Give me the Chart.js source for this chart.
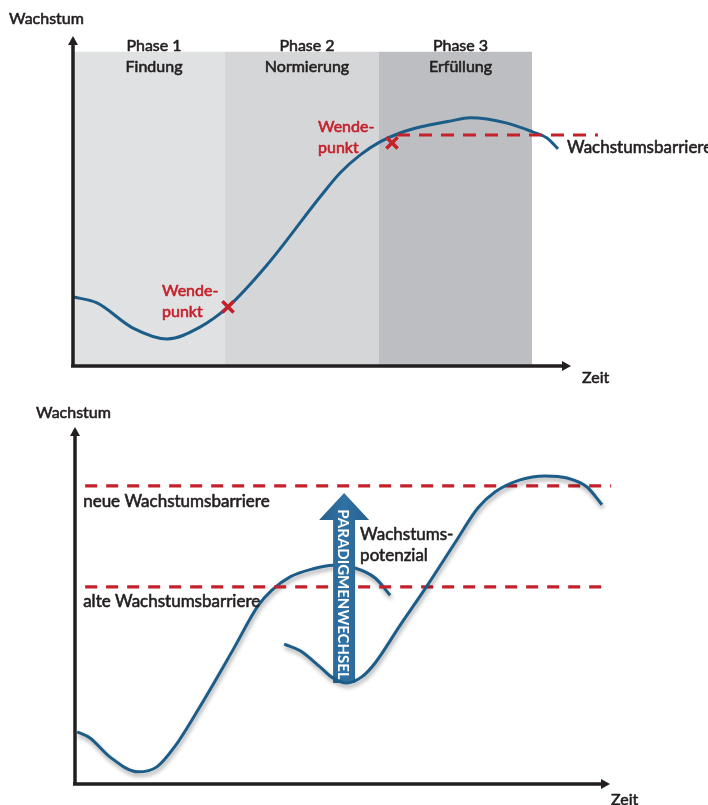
<!DOCTYPE html>
<html>
<head>
<meta charset="utf-8">
<script src="https://cdn.jsdelivr.net/npm/chart.js@4/dist/chart.umd.min.js"></script>
<style>
  html, body { margin: 0; padding: 0; background: #ffffff; }
  #wrap { position: relative; width: 708px; height: 805px; }
  canvas { position: absolute; left: 0; }
  #phases { top: 0; }
  #shift { top: 395px; }
</style>
</head>
<body>
<div id="wrap">
  <canvas id="phases" width="708" height="395" style="width:708px;height:395px"></canvas>
  <canvas id="shift" width="708" height="410" style="width:708px;height:410px"></canvas>
</div>
<script>
// ---------- Phasenmodell (oben) ----------
const phaseNames  = ['Phase 1', 'Phase 2', 'Phase 3'];
const phaseTitles = ['Findung', 'Normierung', 'Erfüllung'];
const phaseFrom   = [0, 30.4, 61.2];
const phaseTo     = [30.4, 61.2, 91.8];
const phaseTop    = 95.2;

const growthX = [0.2, 4.8, 12.0, 18.8, 25.4, 31.0, 38.8, 49.4, 53.4, 57.4, 61.4, 65.4, 69.4, 75.4, 79.4, 86.8, 92.0, 94.8, 97.0];
const growthY = [20.9, 19.1, 11.5, 8.2, 11.8, 17.9, 30.6, 51.2, 58.5, 63.9, 67.9, 70.6, 72.4, 74.2, 75.2, 73.6, 70.9, 69.1, 65.8];

const turnX = [31.0, 63.8];
const turnY = [17.9, 67.6];

const barrierLevel = 70.0;
const barrierFrom  = 64.8;
const barrierTo    = 105;

// ---------- Paradigmenwechsel (unten) ----------
const firstCurveX  = [0.4, 2.8, 6.5, 11.8, 15.3, 18.7, 23.4, 29.5, 34.2, 36.8, 40.2, 44.3, 48.2, 52.3, 56.1, 58.9];
const firstCurveY  = [14.6, 12.9, 7.6, 3.4, 4.8, 10.6, 21.8, 37.5, 49.9, 54.3, 58.0, 60.2, 61.3, 60.5, 57.7, 52.9];
const secondCurveX = [39.1, 42.1, 45.8, 48.2, 50.8, 53.6, 56.1, 60.7, 65.8, 71.0, 75.3, 78.5, 83.2, 87.9, 92.0, 95.7, 98.5];
const secondCurveY = [39.2, 37.3, 32.8, 29.7, 28.3, 30.0, 33.9, 44.3, 55.5, 67.5, 77.3, 81.8, 85.2, 86.3, 85.7, 83.2, 78.2];

const newBarrierLevel = 83.5;
const newBarrierSpan  = [1.9, 100.2];
const oldBarrierLevel = 55.2;
const oldBarrierSpan  = [1.9, 98.7];

const shiftAt   = 50.3;
const shiftFrom = 28.3;
const shiftTo   = 81.5;

// ---------- Gestaltung ----------
const FONT = 'Lato, "Open Sans", "DejaVu Sans", sans-serif';
const INK = '#231f20';
const RED = '#c4212b';
const BLUE_LINE = '#1b5d88';
const bandColors = ['#e0e1e3', '#d5d6d8', '#bdbec1'];
const turnLabelShift = [-66, -74];

const pts = (xs, ys) => xs.map((x, i) => ({ x: x, y: ys[i] }));
const flat = (a, b, level) => [{ x: a, y: level }, { x: b, y: level }];

// Beschriftung mit leichtem Kontur-Strich für etwas kräftigere Schrift
function text(ctx, str, x, y, opts) {
  ctx.save();
  ctx.font = (opts.weight || 'normal') + ' ' + (opts.size || 16) + 'px ' + FONT;
  ctx.fillStyle = opts.color || INK;
  ctx.strokeStyle = opts.color || INK;
  ctx.lineWidth = 0.6;
  ctx.lineJoin = 'round';
  ctx.textAlign = opts.align || 'left';
  ctx.textBaseline = 'middle';
  ctx.fillText(str, x, y);
  ctx.strokeText(str, x, y);
  ctx.restore();
}

function axesWithArrows(ctx, xs, ys, xEnd, yEnd) {
  const x0 = xs.getPixelForValue(0);
  const y0 = ys.getPixelForValue(0);
  const xt = xs.getPixelForValue(xEnd);
  const yt = ys.getPixelForValue(yEnd);
  ctx.save();
  ctx.strokeStyle = INK;
  ctx.fillStyle = INK;
  ctx.lineWidth = 3.5;
  ctx.lineCap = 'butt';
  ctx.beginPath();
  ctx.moveTo(x0, y0 + 1.5);
  ctx.lineTo(x0, yt + 6);
  ctx.moveTo(x0 - 2, y0);
  ctx.lineTo(xt - 6, y0);
  ctx.stroke();
  // Pfeilspitzen
  ctx.beginPath();
  ctx.moveTo(x0, yt);
  ctx.lineTo(x0 - 5, yt + 9);
  ctx.lineTo(x0 + 5, yt + 9);
  ctx.closePath();
  ctx.fill();
  ctx.beginPath();
  ctx.moveTo(xt, y0);
  ctx.lineTo(xt - 9, y0 - 5);
  ctx.lineTo(xt - 9, y0 + 5);
  ctx.closePath();
  ctx.fill();
  ctx.restore();
}

const baseOptions = (padding) => ({
  responsive: false,
  animation: false,
  events: [],
  layout: { padding: padding },
  plugins: { legend: { display: false }, tooltip: { enabled: false }, title: { display: false } },
  elements: { point: { radius: 0 } },
  scales: {
    x: { type: 'linear', min: 0, max: 100, display: false },
    y: { type: 'linear', min: 0, max: 100, display: false }
  }
});

// ---------- Diagramm oben ----------
const bandSets = phaseNames.map((n, i) => ({
  label: n,
  data: flat(phaseFrom[i], phaseTo[i], phaseTop),
  borderWidth: 0,
  backgroundColor: bandColors[i],
  fill: 'origin',
  pointRadius: 0,
  order: 10
}));

const phaseDecor = {
  id: 'phaseDecor',
  afterDatasetsDraw(chart) {
    const ctx = chart.ctx;
    const xs = chart.scales.x, ys = chart.scales.y;
    axesWithArrows(ctx, xs, ys, 99.6, 100);
    const topPx = ys.getPixelForValue(phaseTop);
    phaseNames.forEach((n, i) => {
      const cx = (xs.getPixelForValue(phaseFrom[i]) + xs.getPixelForValue(phaseTo[i])) / 2 + 5;
      text(ctx, n, cx, topPx - 6, { align: 'center' });
      text(ctx, phaseTitles[i], cx, topPx + 15, { align: 'center' });
    });
    turnX.forEach((tx, i) => {
      const px = xs.getPixelForValue(tx), py = ys.getPixelForValue(turnY[i]);
      text(ctx, 'Wende-', px + turnLabelShift[i], py - 16, { color: RED });
      text(ctx, 'punkt', px + turnLabelShift[i], py + 5, { color: RED });
    });
    text(ctx, 'Wachstumsbarriere', xs.getPixelForValue(growthX[growthX.length - 1]) + 9,
         ys.getPixelForValue(barrierLevel) + 13, { size: 17 });
    text(ctx, 'Wachstum', 9, 19, {});
    text(ctx, 'Zeit', 582, ys.getPixelForValue(0) + 12, {});
  }
};

new Chart(document.getElementById('phases'), {
  type: 'line',
  data: {
    datasets: bandSets.concat([
      {
        label: 'Wachstum',
        data: pts(growthX, growthY),
        borderColor: BLUE_LINE,
        borderWidth: 3,
        cubicInterpolationMode: 'monotone',
        fill: false,
        pointRadius: 0,
        order: 5
      },
      {
        label: 'Wachstumsbarriere',
        data: flat(barrierFrom, barrierTo, barrierLevel),
        borderColor: RED,
        borderWidth: 3.2,
        borderDash: [13, 9],
        fill: false,
        pointRadius: 0,
        clip: false,
        order: 3
      },
      {
        label: 'Wendepunkt',
        data: pts(turnX, turnY),
        showLine: false,
        pointStyle: 'crossRot',
        pointRadius: 8,
        pointBorderWidth: 3.5,
        pointBorderColor: RED,
        order: 1
      }
    ])
  },
  options: baseOptions({ left: 73, right: 135, top: 36, bottom: 29 }),
  plugins: [phaseDecor]
});

// ---------- Diagramm unten ----------
function drawShiftArrow(chart) {
  const ctx = chart.ctx;
  const xs = chart.scales.x, ys = chart.scales.y;
  const cx = xs.getPixelForValue(shiftAt);
  const tip = ys.getPixelForValue(shiftTo);
  const bottom = ys.getPixelForValue(shiftFrom);
  const headLen = 27, headHalf = 25, shaftHalf = 11;
  ctx.save();
  const g = ctx.createLinearGradient(cx - headHalf, 0, cx + headHalf, 0);
  g.addColorStop(0, '#275f8c');
  g.addColorStop(0.5, '#3072a4');
  g.addColorStop(1, '#275f8c');
  ctx.fillStyle = g;
  ctx.beginPath();
  ctx.moveTo(cx, tip);
  ctx.lineTo(cx + headHalf, tip + headLen);
  ctx.lineTo(cx + shaftHalf, tip + headLen);
  ctx.lineTo(cx + shaftHalf, bottom);
  ctx.lineTo(cx - shaftHalf, bottom);
  ctx.lineTo(cx - shaftHalf, tip + headLen);
  ctx.lineTo(cx - headHalf, tip + headLen);
  ctx.closePath();
  ctx.fill();
  ctx.translate(cx, (tip + headLen + bottom) / 2 - 7);
  ctx.rotate(Math.PI / 2);
  ctx.font = 'bold 15px ' + FONT;
  ctx.fillStyle = '#ffffff';
  ctx.textAlign = 'center';
  ctx.textBaseline = 'middle';
  ctx.fillText('PARADIGMENWECHSEL', 0, 1);
  ctx.restore();
  text(ctx, 'Wachstums-', cx + 16, tip + headLen + 14, { size: 17 });
  text(ctx, 'potenzial', cx + 16, tip + headLen + 35, { size: 17 });
}

const shiftDecor = {
  id: 'shiftDecor',
  beforeDatasetDraw(chart, args) {
    const ds = chart.data.datasets[args.index];
    if (ds.arrowBelow) drawShiftArrow(chart);
    if (ds.shadow) {
      const ctx = chart.ctx;
      ctx.save();
      ctx.shadowColor = 'rgba(0,0,0,0.38)';
      ctx.shadowBlur = 4;
      ctx.shadowOffsetX = 1;
      ctx.shadowOffsetY = 3;
    }
  },
  afterDatasetDraw(chart, args) {
    const ds = chart.data.datasets[args.index];
    if (ds.shadow) chart.ctx.restore();
  },
  afterDatasetsDraw(chart) {
    const ctx = chart.ctx;
    const xs = chart.scales.x, ys = chart.scales.y;
    axesWithArrows(ctx, xs, ys, 100, 100);
    text(ctx, 'neue Wachstumsbarriere', xs.getPixelForValue(newBarrierSpan[0]) - 2,
         ys.getPixelForValue(newBarrierLevel) + 16, { size: 17 });
    text(ctx, 'alte Wachstumsbarriere', xs.getPixelForValue(oldBarrierSpan[0]) - 2,
         ys.getPixelForValue(oldBarrierLevel) + 15, { size: 17 });
    text(ctx, 'Wachstum', 36, 18, {});
    text(ctx, 'Zeit', 611, ys.getPixelForValue(0) + 16, {});
  }
};

const curveStyle = {
  borderColor: BLUE_LINE,
  borderWidth: 3,
  cubicInterpolationMode: 'monotone',
  fill: false,
  pointRadius: 0,
  shadow: true
};

new Chart(document.getElementById('shift'), {
  type: 'line',
  data: {
    datasets: [
      Object.assign({ label: 'Wachstum vorher', data: pts(firstCurveX, firstCurveY), order: 6 }, curveStyle),
      {
        label: 'neue Wachstumsbarriere',
        data: flat(newBarrierSpan[0], newBarrierSpan[1], newBarrierLevel),
        borderColor: RED, borderWidth: 3.2, borderDash: [12, 9],
        fill: false, pointRadius: 0, clip: false, order: 4
      },
      {
        label: 'alte Wachstumsbarriere',
        data: flat(oldBarrierSpan[0], oldBarrierSpan[1], oldBarrierLevel),
        borderColor: RED, borderWidth: 3.2, borderDash: [12, 9],
        fill: false, pointRadius: 0, clip: false, order: 4
      },
      Object.assign({ label: 'Wachstum nachher', data: pts(secondCurveX, secondCurveY), order: 1, arrowBelow: true }, curveStyle)
    ]
  },
  options: baseOptions({ left: 75, right: 98, top: 32, bottom: 21 }),
  plugins: [shiftDecor]
});
</script>
</body>
</html>
